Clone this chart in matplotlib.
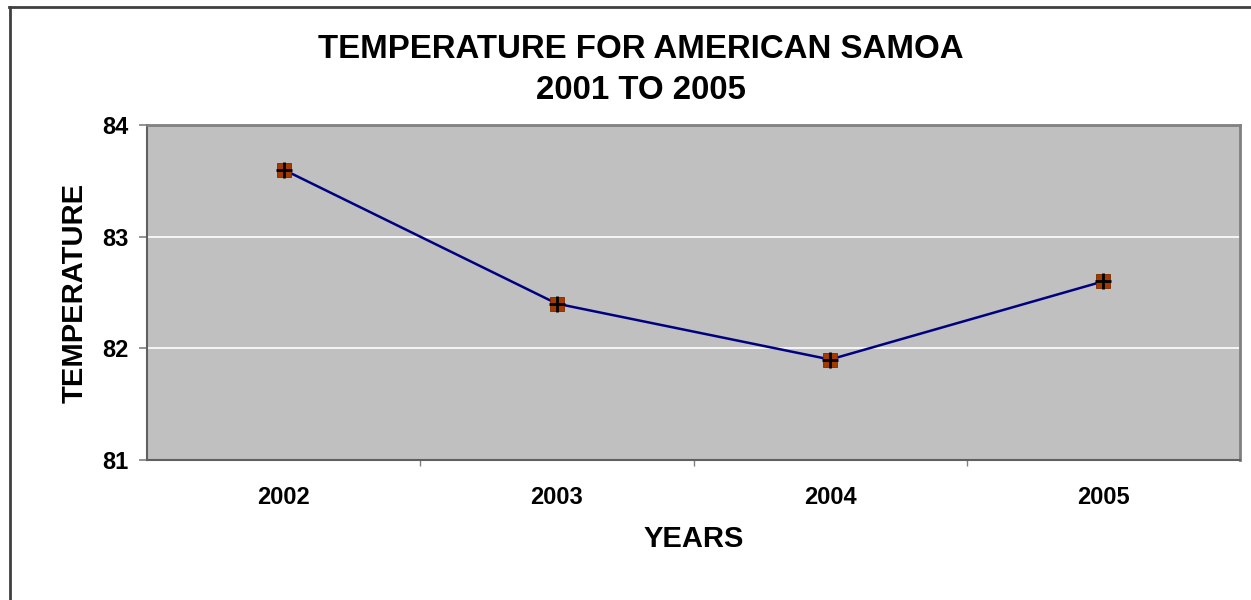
import matplotlib.pyplot as plt
from matplotlib.lines import Line2D
from matplotlib.ticker import FixedLocator

plt.rcParams["font.family"] = ["Liberation Sans", "DejaVu Sans"]

YEARS = ["2002", "2003", "2004", "2005"]
TEMPERATURE = [83.6, 82.4, 81.9, 82.6]
Y_TICKS = [81, 82, 83, 84]

fig = plt.figure(figsize=(12.51, 6.0), dpi=100)
ax = fig.add_axes([147 / 1251, 140 / 600, 1093 / 1251, 335 / 600])
ax.set_facecolor("#c0c0c0")

x = list(range(len(YEARS)))
ax.plot(x, TEMPERATURE, color="#000080", linewidth=1.8, zorder=3)
ax.plot(x, TEMPERATURE, linestyle="none", marker="s", markersize=10,
        markerfacecolor="#a33a00", markeredgecolor="#7a2a00",
        markeredgewidth=0.6, zorder=4)
ax.plot(x, TEMPERATURE, linestyle="none", marker="+", markersize=11,
        markeredgecolor="black", markeredgewidth=2, zorder=5)

ax.set_xlim(-0.5, len(YEARS) - 0.5)
ax.set_ylim(81, 84)
ax.set_yticks(Y_TICKS)
ax.set_xticks(x)
ax.set_xticklabels(YEARS)
ax.xaxis.set_minor_locator(FixedLocator([i + 0.5 for i in range(len(YEARS) - 1)]))

ax.grid(axis="y", color="white", linewidth=1.2, zorder=1)
ax.set_axisbelow(True)

ax.tick_params(axis="x", which="major", length=0, pad=19, labelsize=17)
ax.tick_params(axis="x", which="minor", length=4, color="#808080", width=1)
ax.tick_params(axis="y", which="major", length=6, color="#808080", width=1.2,
               pad=7, labelsize=17)
for lbl in ax.get_xticklabels() + ax.get_yticklabels():
    lbl.set_fontweight("bold")

for side in ["left", "bottom"]:
    ax.spines[side].set_color("#606060")
    ax.spines[side].set_linewidth(1.5)
for side in ["top", "right"]:
    ax.spines[side].set_color("#808080")
    ax.spines[side].set_linewidth(2)

ax.set_xlabel("YEARS", fontsize=21, fontweight="bold", labelpad=11)
ax.set_ylabel("TEMPERATURE", fontsize=21, fontweight="bold", labelpad=10)

fig.text(641 / 1251, 1 - 70 / 600, "TEMPERATURE FOR AMERICAN SAMOA\n2001 TO 2005",
         ha="center", va="center", fontsize=23.8, fontweight="bold", linespacing=1.45)

# outer chart border (only top and left edges visible)
fig.add_artist(Line2D([9.5 / 1251, 9.5 / 1251], [0, 1 - 7 / 600],
                      transform=fig.transFigure, color="#404040", linewidth=2))
fig.add_artist(Line2D([9 / 1251, 1], [1 - 7 / 600, 1 - 7 / 600],
                      transform=fig.transFigure, color="#404040", linewidth=2))

fig.savefig("out.png", dpi=100)
